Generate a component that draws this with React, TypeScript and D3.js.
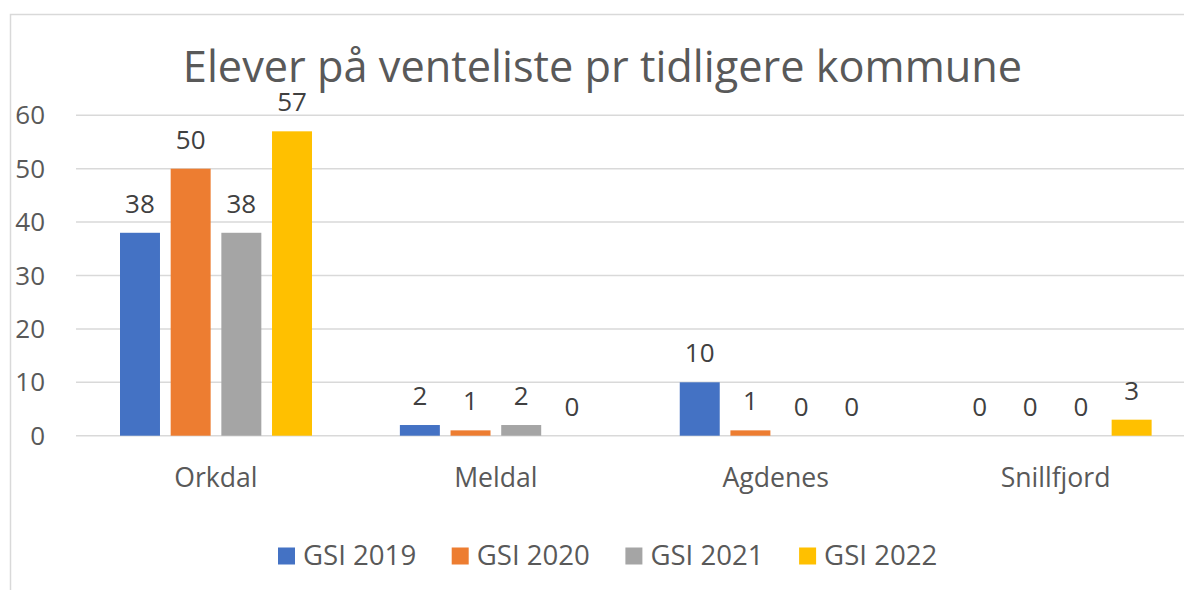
import React, { useRef, useEffect } from "react";
import * as d3 from "d3";

const categories = ["Orkdal", "Meldal", "Agdenes", "Snillfjord"];
const seriesNames = ["GSI 2019", "GSI 2020", "GSI 2021", "GSI 2022"];
const gsi2019 = [38, 2, 10, 0];
const gsi2020 = [50, 1, 1, 0];
const gsi2021 = [38, 2, 0, 0];
const gsi2022 = [57, 0, 0, 3];
const yTicks = [0, 10, 20, 30, 40, 50, 60];
const chartTitle = "Elever på venteliste pr tidligere kommune";

const App = () => {
    const ref = useRef<SVGSVGElement | null>(null);

    useEffect(() => {
        const svgWidth = 1184;
        const svgHeight = 590;
        const fontColor = "#595959";
        const gridColor = "#d9d9d9";
        const font = "'Open Sans', 'Noto Sans', sans-serif";
        const colors = ["#4472C4", "#ED7D31", "#A5A5A5", "#FFC000"];
        const plot = { left: 76, right: 1195.5, top: 115.3, bottom: 435.7 };

        const values = [gsi2019, gsi2020, gsi2021, gsi2022];

        const svg = d3.select(ref.current)
            .attr("width", svgWidth)
            .attr("height", svgHeight);
        svg.selectAll("*").remove();

        // chart border (runs off the right and bottom of the picture)
        svg.append("rect")
            .attr("x", 10.5)
            .attr("y", 14.5)
            .attr("width", 1250)
            .attr("height", 700)
            .attr("fill", "#fff")
            .attr("stroke", gridColor)
            .attr("stroke-width", 1.5);

        // title
        svg.append("text")
            .attr("x", 602.5)
            .attr("y", 82)
            .attr("text-anchor", "middle")
            .style("font-family", font)
            .style("font-size", "43.3px")
            .style("fill", fontColor)
            .text(chartTitle);

        const xScale = d3.scaleBand()
            .domain(categories)
            .range([plot.left, plot.right]);

        const innerScale = d3.scaleBand()
            .domain(seriesNames)
            .range([44, 44 + 192])
            .paddingInner(0.211);

        const yScale = d3.scaleLinear()
            .domain([0, 60])
            .range([plot.bottom, plot.top]);

        // gridlines
        svg.append("g")
            .selectAll("line")
            .data(yTicks)
            .join("line")
            .attr("x1", plot.left)
            .attr("x2", plot.right)
            .attr("y1", d => yScale(d))
            .attr("y2", d => yScale(d))
            .attr("stroke", gridColor)
            .attr("stroke-width", 1.5);

        // y tick labels
        svg.append("g")
            .selectAll("text")
            .data(yTicks)
            .join("text")
            .attr("x", 45)
            .attr("y", d => yScale(d))
            .attr("dy", "0.35em")
            .attr("text-anchor", "end")
            .style("font-family", font)
            .style("font-size", "26px")
            .style("fill", fontColor)
            .text(d => d);

        // bars + data labels per series
        seriesNames.forEach((name, si) => {
            const g = svg.append("g");
            g.selectAll("rect")
                .data(values[si])
                .join("rect")
                .attr("x", (d, i) => (xScale(categories[i]) ?? 0) + (innerScale(name) ?? 0))
                .attr("y", d => yScale(d))
                .attr("width", innerScale.bandwidth())
                .attr("height", d => plot.bottom - yScale(d))
                .attr("fill", colors[si]);

            g.selectAll("text")
                .data(values[si])
                .join("text")
                .attr("x", (d, i) => (xScale(categories[i]) ?? 0) + (innerScale(name) ?? 0) + innerScale.bandwidth() / 2)
                .attr("y", d => yScale(d) - 20)
                .attr("text-anchor", "middle")
                .style("font-family", font)
                .style("font-size", "26px")
                .style("fill", "#404040")
                .text(d => d);
        });

        // category labels
        svg.append("g")
            .selectAll("text")
            .data(categories)
            .join("text")
            .attr("x", d => (xScale(d) ?? 0) + xScale.bandwidth() / 2)
            .attr("y", 486.7)
            .attr("text-anchor", "middle")
            .style("font-family", font)
            .style("font-size", "26.6px")
            .style("fill", fontColor)
            .text(d => d);

        // legend
        const legend = svg.append("g")
            .selectAll("g")
            .data(seriesNames)
            .join("g")
            .attr("transform", (d, i) => `translate(${278 + i * 173.7}, 547.5)`);

        legend.append("rect")
            .attr("width", 17)
            .attr("height", 17)
            .attr("fill", (d, i) => colors[i]);

        legend.append("text")
            .attr("x", 25)
            .attr("y", 17.2)
            .style("font-family", font)
            .style("font-size", "27.6px")
            .style("fill", fontColor)
            .text(d => d);
    }, []);

    return (
        <svg ref={ref} style={{ position: "absolute", left: 0, top: 0, display: "block" }}></svg>
    );
};

export default App;
